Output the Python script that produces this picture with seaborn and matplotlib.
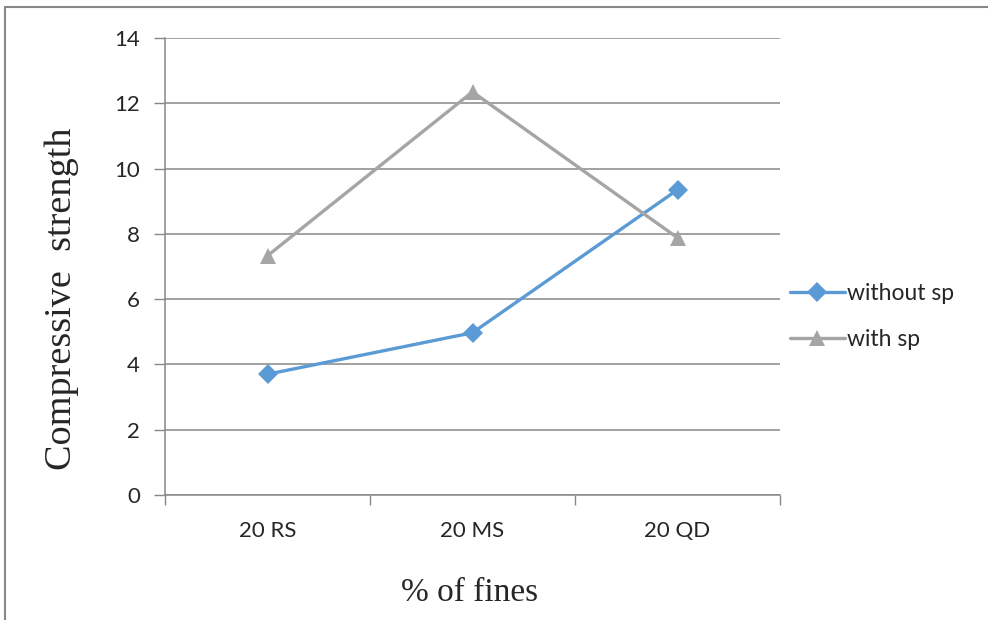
import matplotlib
matplotlib.use("Agg")
import matplotlib.pyplot as plt
import seaborn as sns
import pandas as pd
from matplotlib.patches import Rectangle
from matplotlib.ticker import FixedLocator

categories = ["20 RS", "20 MS", "20 QD"]
without_sp = [3.7, 4.97, 9.35]
with_sp = [7.33, 12.35, 7.88]
series_names = ["without sp", "with sp"]
y_ticks = [0, 2, 4, 6, 8, 10, 12, 14]

df = pd.DataFrame({
    "x": list(range(len(categories))) * 2,
    "value": without_sp + with_sp,
    "series": [series_names[0]] * 3 + [series_names[1]] * 3,
})

sns.set_style("white")
plt.rcParams['font.family'] = ['Lato', 'DejaVu Sans']

fig = plt.figure(figsize=(9.88, 6.2), dpi=100)
ax = fig.add_axes([165/988, 1-495/620, (780-165)/988, (495-38)/620])

palette = {"without sp": "#5B9BD5", "with sp": "#A5A5A5"}
markers = {"without sp": "D", "with sp": "^"}
sns.lineplot(data=df, x="x", y="value", hue="series", style="series",
             palette=palette, markers=markers, dashes=False, linewidth=2.4,
             markersize=10, markeredgewidth=0, ax=ax, legend=True, sort=False)
for ln in ax.get_lines():
    if ln.get_marker() == "^":
        ln.set_markersize(12)

ax.set_xlim(-0.5, 2.5)
ax.set_ylim(0, 14)
ax.set_yticks(y_ticks)
ax.set_xticks(range(len(categories)))
ax.set_xticklabels(categories)
ax.xaxis.set_minor_locator(FixedLocator([-0.5, 0.5, 1.5, 2.5]))
ax.tick_params(axis="x", which="major", length=0, pad=19, labelsize=16)
ax.tick_params(axis="x", which="minor", length=7, width=1, color="#888888", direction="out", bottom=True)
ax.tick_params(axis="y", which="major", length=8, width=1, color="#888888", direction="out", left=True, pad=10, labelsize=16)

ax.yaxis.grid(True, color="#888888", linewidth=1.1)
ax.set_axisbelow(True)
for s in ["top", "right"]:
    ax.spines[s].set_visible(False)
for s in ["left", "bottom"]:
    ax.spines[s].set_color("#888888")
    ax.spines[s].set_linewidth(1.1)

ax.set_xlabel("% of fines", family="Liberation Serif", fontsize=24)
ax.xaxis.set_label_coords(0.496, -0.18)
ax.set_ylabel("Compressive  strength", family="Liberation Serif", fontsize=27.5)
ax.yaxis.set_label_coords(-0.14, 0.43)

handles, labels = ax.get_legend_handles_labels()
for h in handles:
    if h.get_marker() == "^":
        h.set_markersize(12)
    else:
        h.set_markersize(10)
leg = ax.legend(handles, labels, loc="center left", bbox_to_anchor=(0.99, 0.39),
                frameon=False, fontsize=16.5, handlelength=2.4, handletextpad=0.1,
                labelspacing=1.1, borderaxespad=0.3)

fig.patches.append(Rectangle((5/988, -0.01), 1.0, 1 - 7/620 + 0.01, transform=fig.transFigure,
                             fill=False, edgecolor="#888888", linewidth=1.5))

fig.savefig("out.png", dpi=100)
